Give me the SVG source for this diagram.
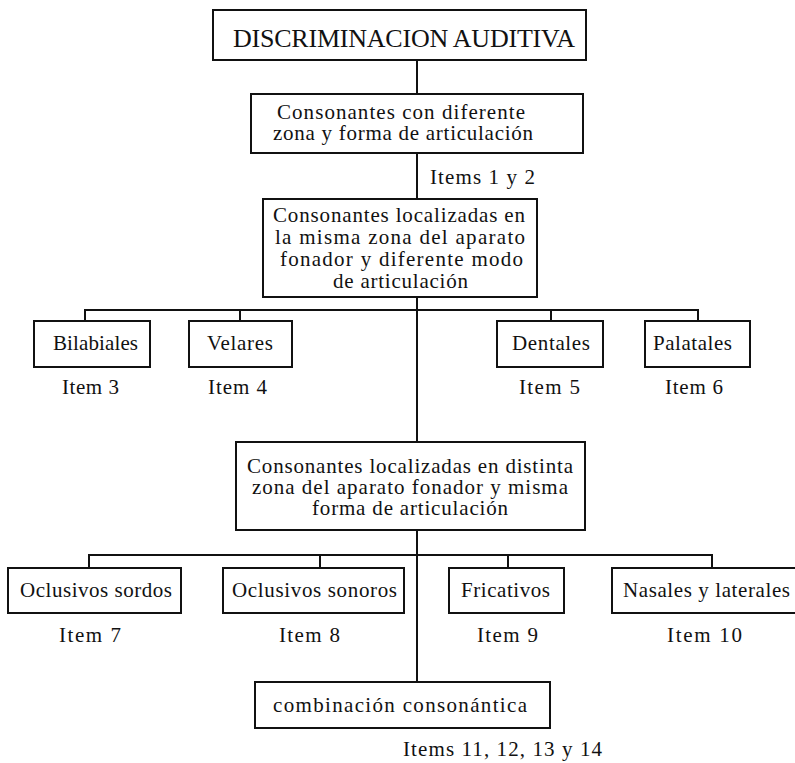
<svg xmlns="http://www.w3.org/2000/svg" width="795" height="763" viewBox="0 0 795 763">
<style>
rect.box{fill:#fff;stroke:#111;stroke-width:2}
.conn line{stroke:#111;stroke-width:2}
text{font-family:"Liberation Serif","Times New Roman",serif;font-size:21px;fill:#111}
text.title{font-size:26px}
</style>
<rect width="795" height="763" fill="#fff"/>
<g class="conn" id="connectors">
<line x1="417" y1="60" x2="417" y2="94"/>
<line x1="417" y1="153" x2="417" y2="199"/>
<line x1="417" y1="297" x2="417" y2="442"/>
<line x1="417" y1="530" x2="417" y2="682"/>
<line x1="84" y1="310" x2="699" y2="310"/>
<line x1="85" y1="310" x2="85" y2="321"/>
<line x1="240" y1="310" x2="240" y2="321"/>
<line x1="551" y1="310" x2="551" y2="321"/>
<line x1="698" y1="310" x2="698" y2="321"/>
<line x1="88" y1="555" x2="713" y2="555"/>
<line x1="89" y1="555" x2="89" y2="568"/>
<line x1="320" y1="555" x2="320" y2="568"/>
<line x1="508" y1="555" x2="508" y2="568"/>
<line x1="712" y1="555" x2="712" y2="568"/>
</g>
<g id="n-discriminacion">
<rect class="box" x="213" y="10" width="373" height="50"/>
<text class="title" x="233" y="47" textLength="342" lengthAdjust="spacing">DISCRIMINACION AUDITIVA</text>
</g>
<g id="n-diferente-zona">
<rect class="box" x="251" y="94" width="332" height="59"/>
<text x="277" y="119" textLength="248" lengthAdjust="spacing">Consonantes con diferente</text>
<text x="273" y="140" textLength="260" lengthAdjust="spacing">zona y forma de articulación</text>
</g>
<g id="l-items12">
<text x="430" y="184" textLength="105" lengthAdjust="spacing">Items 1 y 2</text>
</g>
<g id="n-misma-zona">
<rect class="box" x="263" y="199" width="274" height="98"/>
<text x="273" y="222" textLength="252" lengthAdjust="spacing">Consonantes localizadas en</text>
<text x="275" y="244" textLength="250" lengthAdjust="spacing">la misma zona del aparato</text>
<text x="280" y="266" textLength="243" lengthAdjust="spacing">fonador y diferente modo</text>
<text x="333" y="288" textLength="135" lengthAdjust="spacing">de articulación</text>
</g>
<g id="n-bilabiales">
<rect class="box" x="34" y="321" width="116" height="46"/>
<text x="53" y="350" textLength="85" lengthAdjust="spacing">Bilabiales</text>
<text x="62" y="394" textLength="57" lengthAdjust="spacing">Item 3</text>
</g>
<g id="n-velares">
<rect class="box" x="189" y="321" width="103" height="46"/>
<text x="207" y="350" textLength="66" lengthAdjust="spacing">Velares</text>
<text x="208" y="394" textLength="59" lengthAdjust="spacing">Item 4</text>
</g>
<g id="n-dentales">
<rect class="box" x="497" y="321" width="106" height="46"/>
<text x="512" y="350" textLength="78" lengthAdjust="spacing">Dentales</text>
<text x="519" y="394" textLength="61" lengthAdjust="spacing">Item 5</text>
</g>
<g id="n-palatales">
<rect class="box" x="645" y="321" width="105" height="46"/>
<text x="653" y="350" textLength="79" lengthAdjust="spacing">Palatales</text>
<text x="665" y="394" textLength="58" lengthAdjust="spacing">Item 6</text>
</g>
<g id="n-distinta-zona">
<rect class="box" x="236" y="442" width="349" height="88"/>
<text x="247" y="473" textLength="326" lengthAdjust="spacing">Consonantes localizadas en distinta</text>
<text x="252" y="494" textLength="316" lengthAdjust="spacing">zona del aparato fonador y misma</text>
<text x="312" y="515" textLength="196" lengthAdjust="spacing">forma de articulación</text>
</g>
<g id="n-oclusivos-sordos">
<rect class="box" x="8" y="568" width="173" height="45"/>
<text x="20" y="597" textLength="152" lengthAdjust="spacing">Oclusivos sordos</text>
<text x="59" y="642" textLength="62" lengthAdjust="spacing">Item 7</text>
</g>
<g id="n-oclusivos-sonoros">
<rect class="box" x="223" y="568" width="181" height="45"/>
<text x="232" y="597" textLength="165" lengthAdjust="spacing">Oclusivos sonoros</text>
<text x="279" y="642" textLength="61" lengthAdjust="spacing">Item 8</text>
</g>
<g id="n-fricativos">
<rect class="box" x="449" y="568" width="115" height="45"/>
<text x="461" y="597" textLength="89" lengthAdjust="spacing">Fricativos</text>
<text x="477" y="642" textLength="61" lengthAdjust="spacing">Item 9</text>
</g>
<g id="n-nasales">
<rect class="box" x="612" y="568" width="186" height="45"/>
<text x="623" y="597" textLength="167" lengthAdjust="spacing">Nasales y laterales</text>
<text x="667" y="642" textLength="75" lengthAdjust="spacing">Item 10</text>
</g>
<g id="n-combinacion">
<rect class="box" x="255" y="682" width="295" height="46"/>
<text x="273" y="712" textLength="254" lengthAdjust="spacing">combinación consonántica</text>
<text x="403" y="756" textLength="199" lengthAdjust="spacing">Items 11, 12, 13 y 14</text>
</g>
</svg>
